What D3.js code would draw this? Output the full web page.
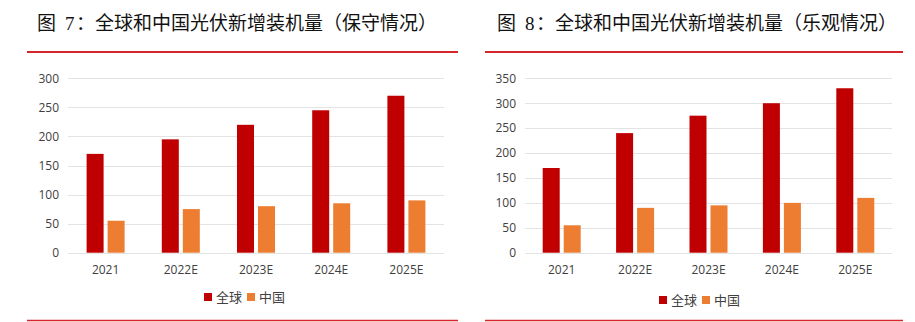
<!DOCTYPE html>
<html><head><meta charset="utf-8">
<script src="https://cdn.jsdelivr.net/npm/d3@7"></script>
<style>
body{margin:0;background:#fff;}
svg{display:block;font-family:"Noto Sans CJK SC","Noto Sans",sans-serif;}
</style></head>
<body>
<svg id="c" width="915" height="322"></svg>
<script>
const categories = ["2021","2022E","2023E","2024E","2025E"];
const seriesNames = ["全球","中国"];
const globalConservative = [170,195,220,245,270];
const chinaConservative = [55,75,80,85,90];
const globalOptimistic = [170,240,275,300,330];
const chinaOptimistic = [55,90,95,100,110];
const ticksLeft = [0,50,100,150,200,250,300];
const ticksRight = [0,50,100,150,200,250,300,350];
const titlePrefix = "图";
const titleNums = ["7","8"];
const titleTexts = ["：全球和中国光伏新增装机量（保守情况）","：全球和中国光伏新增装机量（乐观情况）"];
const colors = ["#C00000","#ED7D31"];

const svg = d3.select("#c");

function panel(cfg){
  const g = svg.append("g");
  const t = g.append("text").attr("y",30).attr("font-size","19px").attr("fill","#111");
  t.append("tspan").attr("x",cfg.titleX).text(titlePrefix);
  t.append("tspan").attr("x",cfg.titleX+28).attr("font-family","Liberation Serif, DejaVu Serif, serif").text(cfg.num);
  t.append("tspan").attr("x",cfg.titleX+39).text(cfg.title);

  g.append("line").attr("x1",cfg.lineX1).attr("x2",cfg.lineX2).attr("y1",52).attr("y2",52)
   .attr("stroke","#D7262B").attr("stroke-width",2);
  g.append("line").attr("x1",cfg.lineX1).attr("x2",cfg.lineX2).attr("y1",320.5).attr("y2",320.5)
   .attr("stroke","#D7262B").attr("stroke-width",1.5);

  const x = d3.scaleBand().domain(categories).range([cfg.x0,cfg.x1]);
  const y = d3.scaleLinear().domain([0,cfg.max]).range([252.7,78.3]);
  const x1 = d3.scaleBand().domain(seriesNames).range([-19,19]).paddingInner(4/21);

  g.append("g").selectAll("line").data(cfg.ticks).join("line")
   .attr("x1",cfg.x0).attr("x2",cfg.x1)
   .attr("y1",d=>Math.round(y(d))+0.5).attr("y2",d=>Math.round(y(d))+0.5)
   .attr("stroke","#E3E3E3").attr("stroke-width",1);

  const yAxis = g.append("g").attr("transform",`translate(${cfg.x0-9},0)`)
   .call(d3.axisLeft(y).tickValues(cfg.ticks).tickSize(0).tickPadding(0));
  yAxis.select(".domain").remove();
  yAxis.selectAll("text").attr("font-size","12px").attr("fill","#404040")
   .attr("font-family","Open Sans, Noto Sans, sans-serif");

  const xAxis = g.append("g").attr("transform",`translate(0,${262})`)
   .call(d3.axisBottom(x).tickSize(0).tickPadding(3));
  xAxis.select(".domain").remove();
  xAxis.selectAll("text").attr("font-size","12px").attr("fill","#404040")
   .attr("font-family","Open Sans, Noto Sans, sans-serif");

  const data = categories.map((c,i)=>({c, vals:[cfg.g[i],cfg.cn[i]]}));
  const grp = g.append("g").selectAll("g").data(data).join("g")
   .attr("transform",d=>`translate(${x(d.c)+x.bandwidth()/2},0)`);
  grp.selectAll("rect").data(d=>d.vals.map((v,k)=>({v,k}))).join("rect")
   .attr("x",d=>x1(seriesNames[d.k]))
   .attr("width",x1.bandwidth())
   .attr("y",d=>y(d.v)).attr("height",d=>y(0)-y(d.v))
   .attr("fill",d=>colors[d.k]);

  const lg = g.append("g").attr("transform",`translate(${cfg.legX},${cfg.legY})`);
  seriesNames.forEach((s,k)=>{
    const ox = k*43;
    lg.append("rect").attr("x",ox).attr("y",-4).attr("width",8).attr("height",8).attr("fill",colors[k]);
    lg.append("text").attr("x",ox+12).attr("y",5).attr("font-size","13px").attr("fill","#404040").text(s);
  });
}

panel({title:titleTexts[0],num:titleNums[0],titleX:37,lineX1:27,lineX2:458,x0:68,x1:444,max:300,ticks:ticksLeft,
  g:globalConservative,cn:chinaConservative,legX:204,legY:297});
panel({title:titleTexts[1],num:titleNums[1],titleX:497,lineX1:485,lineX2:903,x0:525,x1:892,max:350,ticks:ticksRight,
  g:globalOptimistic,cn:chinaOptimistic,legX:659,legY:300});
</script>
</body></html>
